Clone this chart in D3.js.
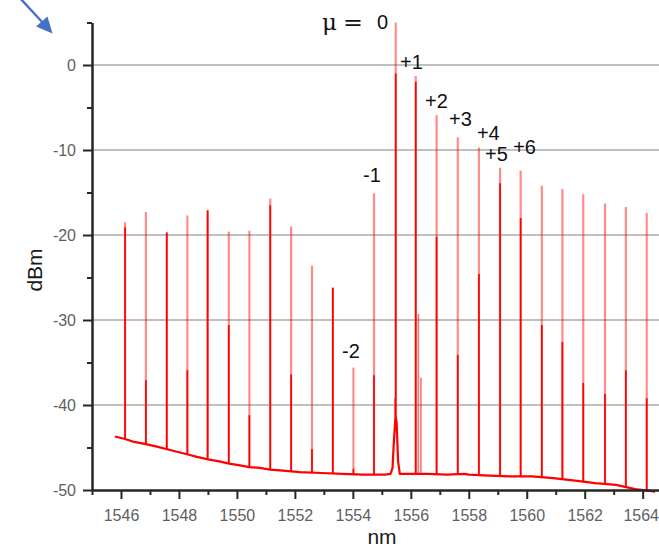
<!DOCTYPE html>
<html>
<head>
<meta charset="utf-8">
<script src="https://cdn.jsdelivr.net/npm/d3@7"></script>
<style>
  html, body { margin: 0; padding: 0; background: #ffffff; }
  svg { display: block; }
  text { font-family: "Liberation Sans", Arial, sans-serif; }
</style>
</head>
<body>
<svg id="chart" width="659" height="547"></svg>
<script>
// Comb lines of the optical spectrum (wavelength in nm, power in dBm)
const peakNm = [1546.14, 1546.86, 1547.58, 1548.29, 1548.99, 1549.72, 1550.43, 1551.15,
                1551.87, 1552.59, 1553.31, 1554.02, 1554.73, 1555.48, 1556.17, 1556.89,
                1557.62, 1558.35, 1559.08, 1559.79, 1560.52, 1561.23, 1561.95, 1562.70,
                1563.42, 1564.14];
const peakTop = [-18.5, -17.3, -19.7, -17.7, -17.1, -19.6, -19.5, -15.7,
                 -19.0, -23.6, -26.2, -35.6, -15.1, 5.0, -1.3, -5.9,
                 -8.5, -9.7, -12.1, -12.4, -14.2, -14.6, -15.2, -16.3,
                 -16.7, -17.4];
// level up to which each line is drawn with the denser trace
const peakDense = [-19.1, -37.1, -19.7, -35.9, -17.1, -30.6, -41.2, -16.5,
                   -36.4, -45.2, -26.2, -47.5, -36.5, -1.0, -2.0, -20.2,
                   -34.1, -24.6, -13.9, -18.0, -30.6, -32.6, -37.4, -38.7,
                   -35.9, -39.2];

// Secondary spikes next to the pump line
const sideNm = [1555.45, 1556.26, 1556.35];
const sideDbm = [-39.2, -29.3, -36.8];

// Noise floor of the spectrum
const floorNm = [1545.79, 1546.14, 1546.41, 1546.86, 1547.24, 1547.59, 1547.93, 1548.28,
                 1548.62, 1549.00, 1549.35, 1549.73, 1550.11, 1550.42, 1550.80, 1551.14,
                 1551.49, 1552.18, 1552.90, 1553.66, 1554.35, 1555.11, 1555.30, 1555.37,
                 1555.41, 1555.46, 1555.48, 1555.51, 1555.56, 1555.62, 1555.87, 1556.59,
                 1557.25, 1557.87, 1558.01, 1558.70, 1559.46, 1560.18, 1560.91, 1561.67,
                 1562.36, 1563.08, 1563.74, 1564.25, 1564.43];
const floorDbm = [-43.7, -44.0, -44.3, -44.6, -44.9, -45.2, -45.5, -45.8,
                  -46.1, -46.4, -46.6, -46.9, -47.1, -47.3, -47.4, -47.6,
                  -47.7, -47.9, -48.0, -48.1, -48.2, -48.2, -48.1, -47.4,
                  -44.6, -42.0, -41.5, -42.0, -46.6, -48.1, -48.1, -48.1,
                  -48.2, -48.1, -48.2, -48.3, -48.4, -48.4, -48.6, -48.9,
                  -49.2, -49.4, -49.9, -50.1, -50.2];

// Mode-number labels
const modeText = ["+1", "+2", "+3", "+4", "+5", "+6", "-1", "-2"];
const modeNm   = [1555.63, 1556.49, 1557.32, 1558.28, 1558.56, 1559.53, 1554.35, 1553.63];
const modeDbm  = [-0.47, -5.06, -7.18, -8.82, -11.29, -10.47, -13.76, -34.47];

// Axis ticks
const xTickValues = [1546, 1548, 1550, 1552, 1554, 1556, 1558, 1560, 1562, 1564];
const xTickLabels = ["1546", "1548", "1550", "1552", "1554", "1556", "1558", "1560", "1562", "1564"];
const xMinorValues = [1545, 1547, 1549, 1551, 1553, 1555, 1557, 1559, 1561, 1563];
const yTickValues = [0, -10, -20, -30, -40, -50];
const yTickLabels = ["0", "-10", "-20", "-30", "-40", "-50"];
const yMinorValues = [5, -5, -15, -25, -35, -45];

const svg = d3.select("#chart");
const plotLeft = 92, plotRight = 659.2, plotTop = 22.5, plotBottom = 490;

const x = d3.scaleLinear().domain([1545, 1564.57]).range([plotLeft, plotRight]);
const y = d3.scaleLinear().domain([-50, 5]).range([plotBottom, plotTop]);

// Gridlines
svg.append("g")
  .selectAll("line")
  .data(yTickValues.filter(v => v !== -50))
  .join("line")
  .attr("x1", plotLeft).attr("x2", 659)
  .attr("y1", d => y(d)).attr("y2", d => y(d))
  .attr("stroke", "#ababab")
  .attr("stroke-width", 1.3);

// Floor level at a given wavelength (linear between floor readings)
const floorPts = floorNm.map((n, i) => [n, floorDbm[i]]);
const bis = d3.bisector(d => d[0]).left;
function floorAt(nm) {
  const i = bis(floorPts, nm);
  if (i <= 0) return floorPts[0][1];
  if (i >= floorPts.length) return floorPts[floorPts.length - 1][1];
  const a = floorPts[i - 1], b = floorPts[i];
  const t = (nm - a[0]) / (b[0] - a[0]);
  return a[1] + t * (b[1] - a[1]);
}

const plot = svg.append("g");

// Noise floor trace
plot.append("path")
  .datum(floorPts)
  .attr("fill", "none")
  .attr("stroke", "#ff0000")
  .attr("stroke-width", 2.2)
  .attr("stroke-linejoin", "round")
  .attr("d", d3.line().x(d => x(d[0])).y(d => y(d[1])));

const peaks = peakNm.map((n, i) => ({ nm: n, top: peakTop[i], dense: peakDense[i] }));

// Full height of each comb line (light trace)
plot.append("g")
  .selectAll("line")
  .data(peaks)
  .join("line")
  .attr("x1", d => x(d.nm)).attr("x2", d => x(d.nm))
  .attr("y1", d => y(floorAt(d.nm)))
  .attr("y2", d => y(d.top))
  .attr("stroke", "#ff0000")
  .attr("stroke-opacity", 0.45)
  .attr("stroke-width", 2.2);

// Dense lower part of each comb line
plot.append("g")
  .selectAll("line")
  .data(peaks)
  .join("line")
  .attr("x1", d => x(d.nm)).attr("x2", d => x(d.nm))
  .attr("y1", d => y(floorAt(d.nm)))
  .attr("y2", d => y(Math.max(d.dense, floorAt(d.nm))))
  .attr("stroke", "#ff0000")
  .attr("stroke-width", 1.7);

// Side spikes
plot.append("g")
  .selectAll("line")
  .data(sideNm.map((n, i) => ({ nm: n, v: sideDbm[i] })))
  .join("line")
  .attr("x1", d => x(d.nm)).attr("x2", d => x(d.nm))
  .attr("y1", d => y(floorAt(d.nm)))
  .attr("y2", d => y(d.v))
  .attr("stroke", "#ff0000")
  .attr("stroke-opacity", 0.55)
  .attr("stroke-width", 1.6);

// Axes
function styleAxis(g) {
  g.selectAll(".domain").attr("stroke", "#262626").attr("stroke-width", 2);
  g.selectAll(".tick line").attr("stroke", "#262626").attr("stroke-width", 2);
  g.selectAll(".tick text")
    .attr("fill", "#5f5f5f")
    .style("font-size", "16px")
    .style("font-family", "'Liberation Sans', Arial, sans-serif");
}

svg.append("g")
  .attr("transform", `translate(0,${plotBottom})`)
  .call(d3.axisBottom(x).tickValues(xMinorValues).tickSize(5).tickSizeOuter(0).tickFormat(""))
  .call(styleAxis);

const xAxisG = svg.append("g")
  .attr("transform", `translate(0,${plotBottom})`)
  .call(d3.axisBottom(x).tickValues(xTickValues).tickSize(9).tickSizeOuter(0).tickPadding(11)
        .tickFormat((d, i) => xTickLabels[i]))
  .call(styleAxis);
// keep the last label inside the page edge
xAxisG.selectAll(".tick text").filter(d => d === 1564).attr("dx", "-2");

svg.append("g")
  .attr("transform", `translate(${plotLeft},0)`)
  .call(d3.axisLeft(y).tickValues(yMinorValues).tickSize(5).tickSizeOuter(0).tickFormat(""))
  .call(styleAxis);

svg.append("g")
  .attr("transform", `translate(${plotLeft},0)`)
  .call(d3.axisLeft(y).tickValues(yTickValues).tickSize(9).tickSizeOuter(0).tickPadding(7)
        .tickFormat((d, i) => yTickLabels[i]))
  .call(styleAxis);

// Axis titles
svg.append("text")
  .attr("x", 382).attr("y", 544)
  .attr("text-anchor", "middle")
  .attr("fill", "#1a1a1a")
  .style("font-size", "21px")
  .text("nm");

svg.append("text")
  .attr("transform", "translate(42,270) rotate(-90)")
  .attr("text-anchor", "middle")
  .attr("fill", "#1a1a1a")
  .style("font-size", "21px")
  .text("dBm");

// Mode labels
svg.append("g")
  .selectAll("text")
  .data(modeText.map((t, i) => ({ t, nm: modeNm[i], v: modeDbm[i] })))
  .join("text")
  .attr("x", d => x(d.nm)).attr("y", d => y(d.v))
  .attr("fill", "#111")
  .style("font-size", "20px")
  .text(d => d.t);

// Pump label "μ = 0"
const mu = svg.append("g").attr("fill", "#111");
mu.append("text")
  .attr("x", 322).attr("y", 30)
  .style("font-family", "'DejaVu Serif', 'Liberation Serif', serif")
  .style("font-size", "23px")
  .text("μ");
mu.append("text")
  .attr("x", 343).attr("y", 30)
  .attr("textLength", 20).attr("lengthAdjust", "spacingAndGlyphs")
  .style("font-family", "'DejaVu Serif', 'Liberation Serif', serif")
  .style("font-size", "23px")
  .text("=");
mu.append("text")
  .attr("x", 377).attr("y", 29)
  .style("font-size", "20px")
  .text("0");

// Pointer arrow in the corner
const arrow = svg.append("g");
arrow.append("line")
  .attr("x1", 19).attr("y1", -3).attr("x2", 43).attr("y2", 23)
  .attr("stroke", "#4472c4").attr("stroke-width", 2.4);
arrow.append("path")
  .attr("d", "M52.5,33.5 L36,26.5 L47.5,16.5 Z")
  .attr("fill", "#4472c4");
</script>
</body>
</html>
